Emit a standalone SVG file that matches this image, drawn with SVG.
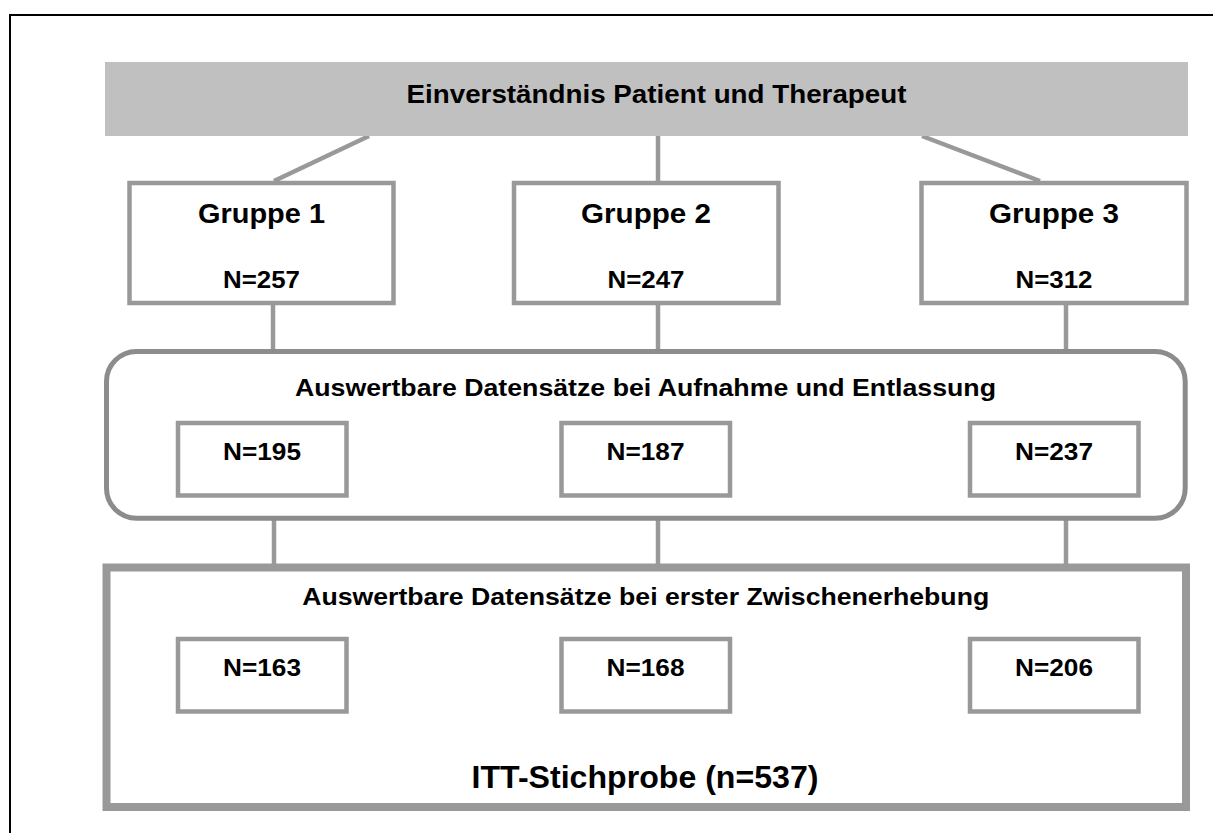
<svg xmlns="http://www.w3.org/2000/svg" width="1213" height="833" viewBox="0 0 1213 833">
<style>
  .t { font-family: "Liberation Sans", Arial, sans-serif; font-weight: bold; fill: #000; text-anchor: middle; }
  .box { fill: #fff; stroke: #999; stroke-width: 4.5; }
  .conn { stroke: #999; stroke-width: 4.5; fill: none; }
</style>
<rect x="0" y="0" width="1213" height="833" fill="#fff"/>
<path d="M10,833 V15 H1213" fill="none" stroke="#000" stroke-width="2"/>

<g id="connectors">
  <line class="conn" x1="369" y1="136" x2="274" y2="181"/>
  <line class="conn" x1="658" y1="136" x2="658" y2="181"/>
  <line class="conn" x1="922" y1="136" x2="1040" y2="181"/>
  <line class="conn" x1="273" y1="305" x2="273" y2="350"/>
  <line class="conn" x1="658" y1="305" x2="658" y2="350"/>
  <line class="conn" x1="1066" y1="305" x2="1066" y2="350"/>
  <line class="conn" x1="274" y1="519" x2="274" y2="564"/>
  <line class="conn" x1="658" y1="519" x2="658" y2="564"/>
  <line class="conn" x1="1066" y1="519" x2="1066" y2="564"/>
</g>

<g id="banner">
  <rect x="105" y="62" width="1083" height="74" fill="#c0c0c0"/>
  <text class="t" x="656.5" y="103.3" font-size="25.5" textLength="500" lengthAdjust="spacingAndGlyphs">Einverständnis Patient und Therapeut</text>
</g>

<g id="gruppe1">
  <rect class="box" x="129.5" y="183" width="264" height="120"/>
  <text class="t" x="261.5" y="222.5" font-size="28" textLength="127" lengthAdjust="spacingAndGlyphs">Gruppe 1</text>
  <text class="t" x="261.5" y="287.5" font-size="24.5" textLength="77" lengthAdjust="spacingAndGlyphs">N=257</text>
</g>
<g id="gruppe2">
  <rect class="box" x="514" y="183" width="264.5" height="120"/>
  <text class="t" x="646" y="222.5" font-size="28" textLength="130" lengthAdjust="spacingAndGlyphs">Gruppe 2</text>
  <text class="t" x="646" y="287.5" font-size="24.5" textLength="77" lengthAdjust="spacingAndGlyphs">N=247</text>
</g>
<g id="gruppe3">
  <rect class="box" x="921.5" y="183" width="265" height="120"/>
  <text class="t" x="1054" y="222.5" font-size="28" textLength="130" lengthAdjust="spacingAndGlyphs">Gruppe 3</text>
  <text class="t" x="1054" y="287.5" font-size="24.5" textLength="77" lengthAdjust="spacingAndGlyphs">N=312</text>
</g>

<g id="aufnahme">
  <rect x="106.5" y="351.5" width="1078.7" height="166.7" rx="30" ry="30" fill="#fff" stroke="#8c8c8c" stroke-width="5"/>
  <text class="t" x="645.5" y="395.7" font-size="24.5" textLength="701" lengthAdjust="spacingAndGlyphs">Auswertbare Datensätze bei Aufnahme und Entlassung</text>
</g>
<g id="a1">
  <rect class="box" x="178" y="423" width="168.5" height="72.5"/>
  <text class="t" x="262" y="459.5" font-size="24.5" textLength="78" lengthAdjust="spacingAndGlyphs">N=195</text>
</g>
<g id="a2">
  <rect class="box" x="561.5" y="423" width="168.5" height="72.5"/>
  <text class="t" x="645.5" y="459.5" font-size="24.5" textLength="78" lengthAdjust="spacingAndGlyphs">N=187</text>
</g>
<g id="a3">
  <rect class="box" x="970" y="423" width="168.5" height="72.5"/>
  <text class="t" x="1054" y="459.5" font-size="24.5" textLength="78" lengthAdjust="spacingAndGlyphs">N=237</text>
</g>

<g id="zwischen">
  <rect x="106.5" y="567.5" width="1079.5" height="239.5" fill="#fff" stroke="#999" stroke-width="8"/>
  <text class="t" x="645.7" y="605" font-size="24.5" textLength="687" lengthAdjust="spacingAndGlyphs">Auswertbare Datensätze bei erster Zwischenerhebung</text>
  <text class="t" x="645" y="788" font-size="32" textLength="347" lengthAdjust="spacingAndGlyphs">ITT-Stichprobe (n=537)</text>
</g>
<g id="z1">
  <rect class="box" x="178" y="639" width="168.5" height="72.5"/>
  <text class="t" x="262" y="676" font-size="24.5" textLength="78" lengthAdjust="spacingAndGlyphs">N=163</text>
</g>
<g id="z2">
  <rect class="box" x="561.5" y="639" width="168.5" height="72.5"/>
  <text class="t" x="645.5" y="676" font-size="24.5" textLength="78" lengthAdjust="spacingAndGlyphs">N=168</text>
</g>
<g id="z3">
  <rect class="box" x="970" y="639" width="168.5" height="72.5"/>
  <text class="t" x="1054" y="676" font-size="24.5" textLength="78" lengthAdjust="spacingAndGlyphs">N=206</text>
</g>
</svg>
